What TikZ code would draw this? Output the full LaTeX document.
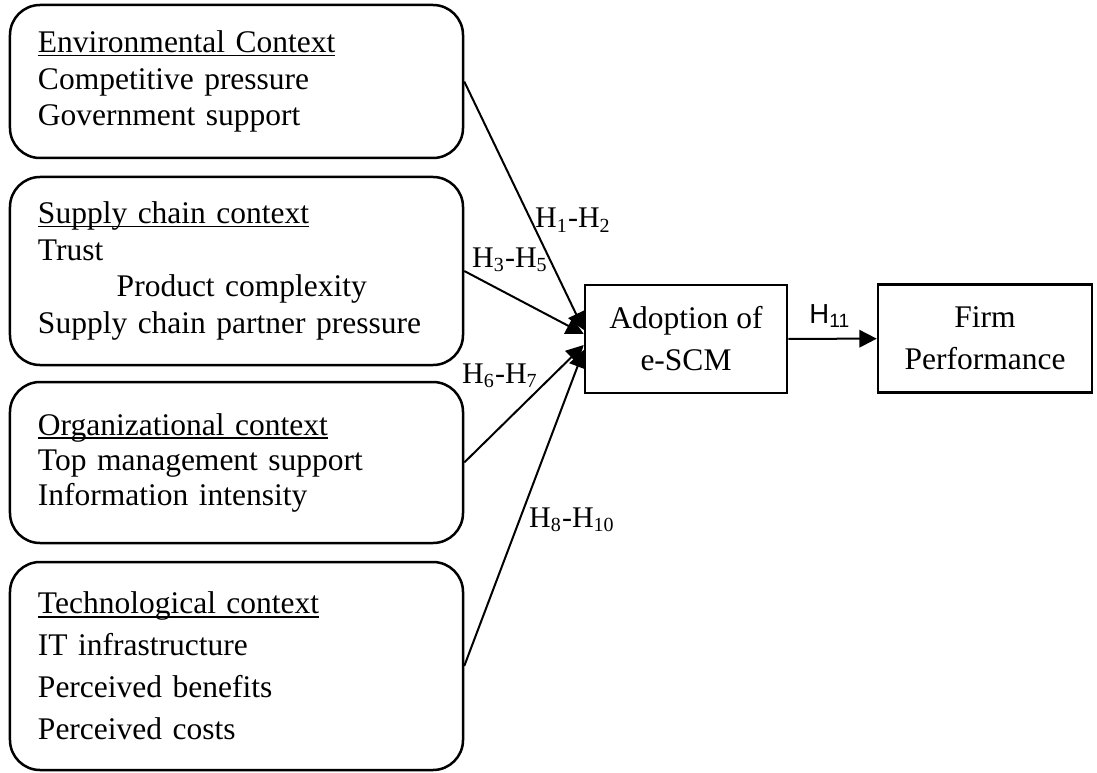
\documentclass[tikz,border=0pt]{standalone}
\usepackage{fontspec}
\setmainfont{Liberation Serif}
\newfontfamily\labelsans{Liberation Sans}
\usetikzlibrary{arrows.meta}
\newcommand{\ctxhead}[1]{\leavevmode\setbox0\hbox{#1}\rlap{\rule[-1.6pt]{\wd0}{0.7pt}}\box0}
\begin{document}
\begin{tikzpicture}[x=0.4pt,y=-0.4pt]
		\tikzset{ctx/.style = {shape=rectangle,draw,line width=1pt,rounded corners=12pt,minimum width=181.2pt,text width=158.8pt,inner xsep=11.2pt,align=left,font=\fontsize{12.6}{14.7}\selectfont}}
		\tikzset{block/.style = {shape=rectangle,draw,line width=1pt,minimum height=43.2pt,align=center,font=\fontsize{12.6}{16.8}\selectfont}}
		\tikzset{edge/.style = {-{Triangle[length=7pt,width=7pt]},line width=0.8pt}}
		\tikzset{hyp/.style = {font=\fontsize{12}{14}\selectfont,inner sep=0pt}}
		\useasboundingbox (0,0) rectangle (1097,772);
		\node[ctx,minimum height=61.2pt] (env) at (236.5,81.5) {\ctxhead{Environmental Context}\\Competitive pressure\\Government support};
		\node[ctx,minimum height=75.2pt] (sc) at (236.5,271) {\ctxhead{Supply chain context}\\Trust\\\hspace*{2.5em}Product complexity\\Supply chain partner pressure};
		\node[ctx,minimum height=64.4pt,font=\fontsize{12.6}{14}\selectfont] (org) at (236.5,462.5) {\ctxhead{Organizational context}\\Top management support\\Information intensity};
		\node[ctx,minimum height=83.2pt,font=\fontsize{12.6}{16.8}\selectfont] (tech) at (236.5,666) {\ctxhead{Technological context}\\IT infrastructure\\Perceived benefits\\Perceived costs};
		\node[block,minimum width=80.8pt] (adopt) at (686,339) {Adoption of\\e-SCM};
		\node[block,minimum width=85.6pt] (firm) at (985,338.5) {Firm\\Performance};
		\draw[edge] (env.east) -- ([yshift=3.6pt]adopt.west);
		\draw[edge] (sc.east) -- ([yshift=2pt]adopt.west);
		\draw[edge] (org.east) -- ([yshift=-2.4pt]adopt.west);
		\draw[edge] (tech.east) -- ([yshift=-4.4pt]adopt.west);
		\draw[edge] (adopt) -- (firm);
		\node[hyp] (h1) at (573,220) {H\textsubscript{1}-H\textsubscript{2}};
		\node[hyp] (h3) at (510,260) {H\textsubscript{3}-H\textsubscript{5}};
		\node[hyp] (h6) at (500,376) {H\textsubscript{6}-H\textsubscript{7}};
		\node[hyp] (h8) at (572,520) {H\textsubscript{8}-H\textsubscript{10}};
		\node[hyp,font=\labelsans\fontsize{11}{13}\selectfont] (h11) at (830,316) {H\textsubscript{11}};
	\end{tikzpicture}
\end{document}
